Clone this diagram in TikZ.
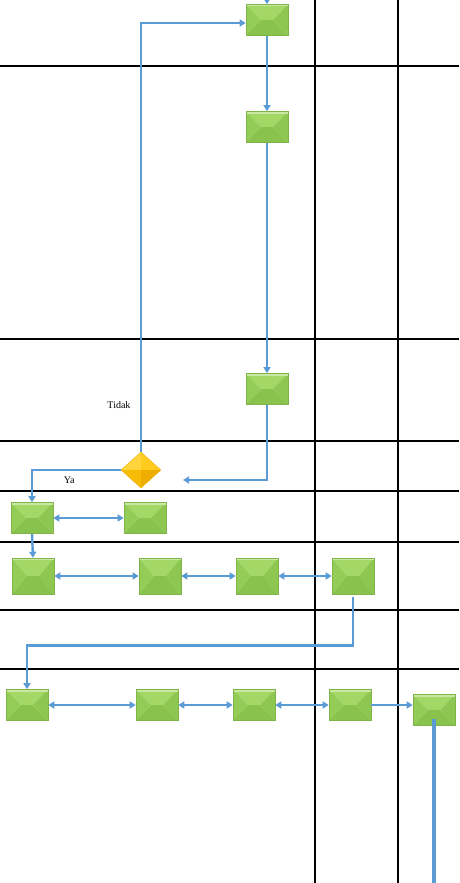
\documentclass[tikz,border=0pt]{standalone}
\usepackage{fontspec}
\setmainfont{Liberation Serif}
\usetikzlibrary{shapes.geometric,arrows.meta}
\definecolor{flowblue}{HTML}{5B9BD5}
\definecolor{gtop}{HTML}{A4D866}
\definecolor{gleft}{HTML}{93CC56}
\definecolor{gright}{HTML}{8DC650}
\definecolor{gbot}{HTML}{89C24D}
\definecolor{gedge}{HTML}{7FB548}
\definecolor{dnw}{HTML}{FFD43C}
\definecolor{dne}{HTML}{FFCB1E}
\definecolor{dsw}{HTML}{F7BC06}
\definecolor{dse}{HTML}{EEAE00}
\tikzset{
  task/.style={rectangle,draw=gedge,line width=0.6pt,inner sep=0pt,
    minimum width=42pt,minimum height=31pt,
    path picture={
      \coordinate (nw) at (path picture bounding box.north west);
      \coordinate (ne) at (path picture bounding box.north east);
      \coordinate (sw) at (path picture bounding box.south west);
      \coordinate (se) at (path picture bounding box.south east);
      \coordinate (cl) at ([xshift=-6pt]path picture bounding box.center);
      \coordinate (cr) at ([xshift=6pt]path picture bounding box.center);
      \fill[gtop] (nw) -- (ne) -- (cr) -- (cl) -- cycle;
      \fill[gleft] (nw) -- (cl) -- (sw) -- cycle;
      \fill[gright] (ne) -- (cr) -- (se) -- cycle;
      \fill[gbot] (sw) -- (se) -- (cr) -- (cl) -- cycle;
      \fill[gtop!60!white] (nw) rectangle ([yshift=-2pt]ne);
    }},
  tasktall/.style={task,minimum height=36pt},
  choice/.style={diamond,draw=dse,line width=0.4pt,inner sep=0pt,
    minimum width=40pt,minimum height=36pt,
    path picture={
      \coordinate (n) at (path picture bounding box.north);
      \coordinate (s) at (path picture bounding box.south);
      \coordinate (w) at (path picture bounding box.west);
      \coordinate (e) at (path picture bounding box.east);
      \coordinate (c) at (path picture bounding box.center);
      \fill[dnw] (w) -- (n) -- (c) -- cycle;
      \fill[dne] (n) -- (e) -- (c) -- cycle;
      \fill[dsw] (w) -- (s) -- (c) -- cycle;
      \fill[dse] (s) -- (e) -- (c) -- cycle;
    }},
  lane/.style={line width=1.6pt},
  flow/.style={draw=flowblue,line width=2.4pt,-{Triangle[length=6pt,width=7pt]}},
  both/.style={flow,{Triangle[length=6pt,width=7pt]}-{Triangle[length=6pt,width=7pt]}}
}
\begin{document}
\begin{tikzpicture}[x=1pt,y=-1pt]
    \useasboundingbox (0,0) rectangle (459,883);
    % lanes
    \foreach \ly in {66,339,441,491,610,669}
      \draw[lane] (0,\ly) -- (459,\ly);
    \draw[line width=2.6pt] (0,542) -- (459,542);
    \foreach \lx in {315,398}
      \draw[lane] (\lx,0) -- (\lx,883);
    % tasks
    \node[task] (t1) at (267,20) {};
    \node[task] (t2) at (267,127) {};
    \node[task] (t3) at (267,389) {};
    \node[choice] (q) at (141,470) {};
    \node[task] (t4) at (32,518) {};
    \node[task] (t5) at (145,518) {};
    \node[tasktall] (t6) at (33,576) {};
    \node[tasktall] (t7) at (160,576) {};
    \node[tasktall] (t8) at (257,576) {};
    \node[tasktall] (t9) at (353,576) {};
    \node[task] (t10) at (27,705) {};
    \node[task] (t11) at (157,705) {};
    \node[task] (t12) at (254,705) {};
    \node[task] (t13) at (350,705) {};
    \node[task] (t14) at (434,710) {};
    % free ends
    \coordinate (start) at (267,0);
    \coordinate (back) at (183,480);
    \coordinate (end) at (434,883);
    % arrows
    \draw[flow] (start) -- (t1.north);
    \draw[flow] (t1.south) -- (t2.north);
    \draw[flow] (t2.south) -- (t3.north);
    \draw[flow] (t3.south) |- (back);
    \draw[flow] (q.north) |- ([yshift=-3pt]t1.west) node[pos=0.055,left=6pt,black]{Tidak};
    \draw[flow] (q.west) -| (t4.north) node[pos=0.29,below=2pt,black]{Ya};
    \draw[both] (t4) -- (t5);
    \draw[flow] (t4.south) -- (t6.north);
    \draw[both] (t6) -- (t7);
    \draw[both] (t7) -- (t8);
    \draw[both] (t8) -- (t9);
    \draw[flow] ([yshift=-3pt]t9.south) -- ++(0,48) -| (t10.north);
    \draw[both] (t10) -- (t11);
    \draw[both] (t11) -- (t12);
    \draw[both] (t12) -- (t13);
    \draw[flow] (t13) -- (t13 -| t14.west);
    \draw[flowblue,line width=3.5pt] ([yshift=-9pt]t14.center) -- (end);
  \end{tikzpicture}
\end{document}
